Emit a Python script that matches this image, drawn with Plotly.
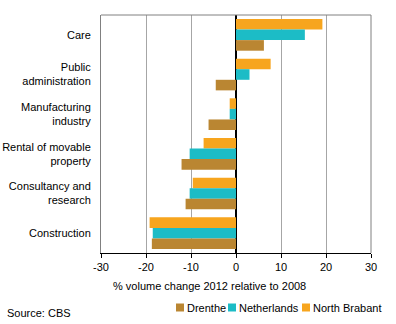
import plotly.graph_objects as go

categories = ["Care", "Public<br>administration", "Manufacturing<br>industry",
              "Rental of movable<br>property", "Consultancy and<br>research", "Construction"]
drenthe = [6.2, -4.5, -6.1, -12.1, -11.2, -18.7]
netherlands = [15.3, 3.0, -1.4, -10.3, -10.3, -18.5]
north_brabant = [19.2, 7.7, -1.4, -7.2, -9.6, -19.2]
x_ticks = [-30, -20, -10, 0, 10, 20, 30]

FONT = "Liberation Sans, Arial, sans-serif"
W, H = 396, 324
L, R, T, B = 101, 25, 15, 71

series = [("Drenthe", drenthe, "#BA8632"),
          ("Netherlands", netherlands, "#1CBCC6"),
          ("North Brabant", north_brabant, "#F7A51E")]

fig = go.Figure()
# Top-down stacking within each group: North Brabant, Netherlands, Drenthe
for name, vals, col in reversed(series):
    fig.add_trace(go.Bar(y=categories, x=vals, name=name, orientation="h",
                         marker=dict(color=col, line=dict(width=0)), showlegend=False))

pw = W - L - R
ph = H - T - B


def px_x(p):
    return (p - L) / pw


def px_y(p):
    return (H - B - p) / ph


# Legend drawn as small squares with labels along the bottom right
legend_x = [176, 228, 302]
shapes = [
    dict(type="line", xref="paper", yref="paper", x0=0, x1=1, y0=1, y1=1,
         line=dict(color="#808080", width=1)),
    dict(type="line", xref="paper", yref="paper", x0=1, x1=1, y0=0, y1=1,
         line=dict(color="#808080", width=1)),
]
annotations = [
    dict(text="% volume change 2012 relative to 2008", xref="paper", yref="paper",
         x=px_x(111), y=px_y(286), xanchor="left", yanchor="middle", showarrow=False,
         font=dict(size=11)),
    dict(text="Source: CBS", xref="paper", yref="paper", x=px_x(5), y=px_y(313),
         xanchor="left", yanchor="middle", showarrow=False, font=dict(size=11)),
]
for (name, _, col), lx in zip(series, legend_x):
    shapes.append(dict(type="rect", xref="paper", yref="paper",
                       x0=px_x(lx), x1=px_x(lx + 8), y0=px_y(303.5), y1=px_y(311.5),
                       fillcolor=col, line=dict(width=0)))
    annotations.append(dict(text=name, xref="paper", yref="paper", x=px_x(lx + 9),
                            y=px_y(307.5), xanchor="left", yanchor="middle",
                            showarrow=False, font=dict(size=11)))

fig.update_layout(
    width=W, height=H,
    margin=dict(l=L, r=R, t=T, b=B, autoexpand=False),
    barmode="group", bargap=0.2, bargroupgap=0,
    plot_bgcolor="white", paper_bgcolor="white",
    font=dict(family=FONT, size=11, color="black"),
    showlegend=False,
    xaxis=dict(range=[-30, 30], tickvals=x_ticks, ticktext=[str(v) for v in x_ticks],
               showgrid=True, gridcolor="#A6A6A6",
               gridwidth=1, zeroline=True, zerolinecolor="black", zerolinewidth=1.5,
               showline=True, linecolor="black", linewidth=1, ticks="outside",
               ticklen=4, tickcolor="black", mirror=False, fixedrange=True,
               automargin=False),
    yaxis=dict(categoryorder="array", categoryarray=categories, autorange="reversed",
               showgrid=False, showline=True, linecolor="#808080", linewidth=1,
               ticks="", ticklabelstandoff=7, fixedrange=True, automargin=False),
    shapes=shapes,
    annotations=annotations,
)

fig.write_html("out.html")
